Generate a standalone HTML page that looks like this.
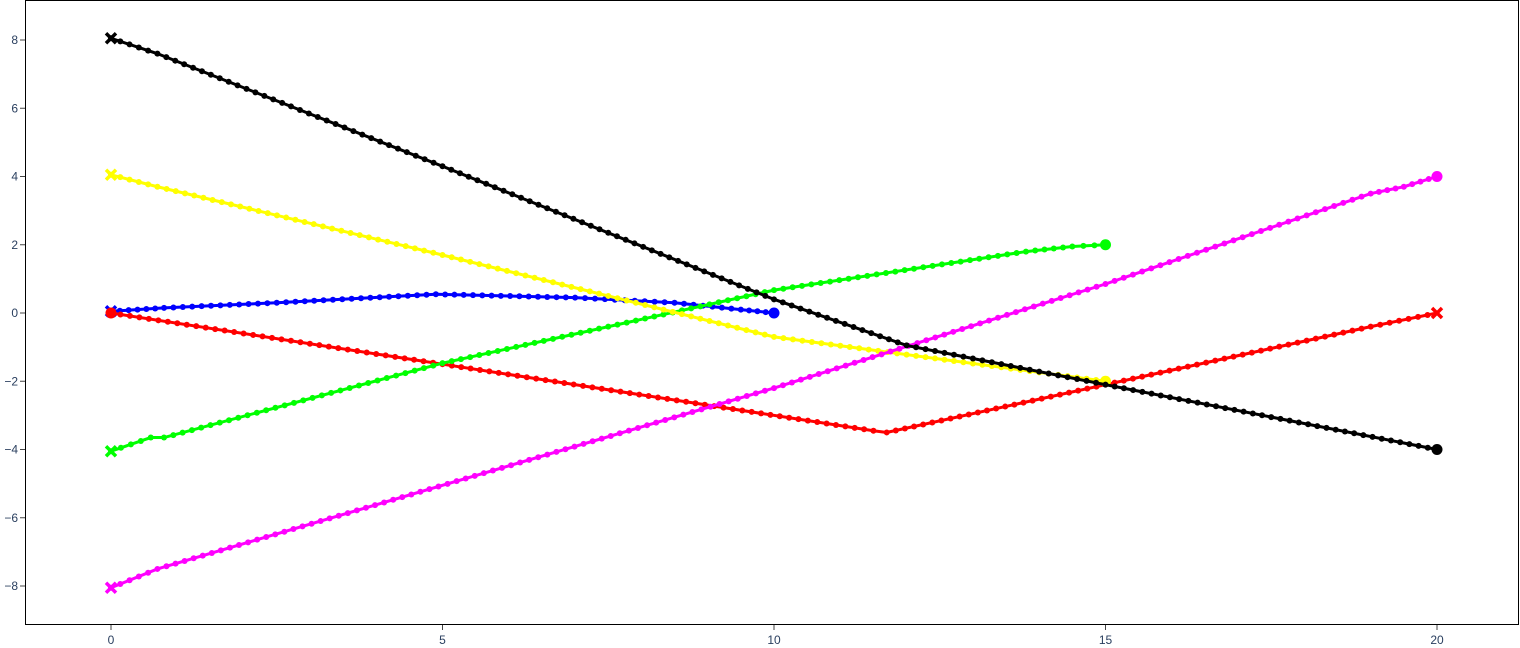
<!DOCTYPE html>
<html><head><meta charset="utf-8"><style>
html,body{margin:0;padding:0;background:#fff;}
svg{display:block;font-family:"Liberation Sans",sans-serif;}
</style></head><body>
<svg id="chart" width="1520" height="648"></svg>
<script>
const xTicks=[0,5,10,15,20];
const yTicks=[-8,-6,-4,-2,0,2,4,6,8];
const blackX=[0,0.7,5,10,12,15,20];
const blackY=[8.05,7.6,4.3,0.4,-0.95,-2.1,-4];
const yellowX=[0,0.7,5,10,15];
const yellowY=[4.05,3.7,1.7,-0.7,-2];
const greenX=[0,0.6,0.8,5,10,13.8,14.5,15];
const greenY=[-4.05,-3.65,-3.65,-1.47,0.67,1.8,1.95,2];
const blueX=[0,0.8,2.5,4.9,7,8.5,9.5,10];
const blueY=[0.05,0.15,0.3,0.55,0.45,0.3,0.1,0];
const redX=[0,5,11.5,11.7,15,19,20];
const redY=[0,-1.5,-3.45,-3.5,-2.1,-0.4,0];
const magX=[0,0.7,10,15,19,19.5,20];
const magY=[-8.05,-7.5,-2.2,0.85,3.5,3.7,4];
const series=[
 {name:'blue',c:'#0000ff',x:blueX,y:blueY,s:'x',e:'o'},
 {name:'red',c:'#ff0000',x:redX,y:redY,s:'o',e:'x'},
 {name:'green',c:'#00ff00',x:greenX,y:greenY,s:'x',e:'o'},
 {name:'yellow',c:'#ffff00',x:yellowX,y:yellowY,s:'x',e:'o'},
 {name:'magenta',c:'#ff00ff',x:magX,y:magY,s:'x',e:'o'},
 {name:'black',c:'#000000',x:blackX,y:blackY,s:'x',e:'o'}
];
const NS='http://www.w3.org/2000/svg';
const svg=document.getElementById('chart');
const sx=v=>111+v*66.3;
const sy=v=>313-v*34.125;
function el(t,a,p){const e=document.createElementNS(NS,t);for(const k in a)e.setAttribute(k,a[k]);(p||svg).appendChild(e);return e;}
const frame=el('rect',{x:25.5,y:0.5,width:1493,height:624,fill:'none',stroke:'#000','stroke-width':1});


xTicks.forEach(t=>{
 const g=el('g',{});
 
 
 el('line',{x1:sx(t),x2:sx(t),y1:625,y2:630,stroke:'#444'},g);
 const tx=el('text',{x:sx(t),y:644,'text-anchor':'middle','font-size':12,fill:'#2a3f5f'},g);tx.textContent=t;
});
yTicks.forEach(t=>{
 const g=el('g',{});
 
 
 el('line',{x1:20,x2:25,y1:sy(t),y2:sy(t),stroke:'#444'},g);
 const tx=el('text',{x:18,y:sy(t)+4,'text-anchor':'end','font-size':12,fill:'#2a3f5f'},g);tx.textContent=t===0?'0':(t<0?'\u2212'+(-t):t);
});
function cross(g,x,y,c){el('path',{d:`M${x-5},${y-5}L${x+5},${y+5}M${x-5},${y+5}L${x+5},${y-5}`,stroke:c,'stroke-width':3.5},g);}
series.forEach(s=>{
 const g=el('g',{});
 
 
 const pts=s.x.map((v,i)=>[sx(v),sy(s.y[i])]);
 el('polyline',{points:pts.map(p=>p.join(',')).join(' '),fill:'none',stroke:s.c,'stroke-width':3},g);
 for(let i=0;i<pts.length-1;i++){
  const [x1,y1]=pts[i],[x2,y2]=pts[i+1];const L=Math.hypot(x2-x1,y2-y1);const n=Math.max(1,Math.round(L/9.5));
  for(let k=0;k<n;k++){const f=k/n;el('circle',{cx:x1+(x2-x1)*f,cy:y1+(y2-y1)*f,r:3,fill:s.c},g);}
 }
 const a=pts[0],b=pts[pts.length-1];
 [[a,s.s],[b,s.e]].forEach(([p,m])=>{if(m==='x')cross(g,p[0],p[1],s.c);else el('circle',{cx:p[0],cy:p[1],r:5.5,fill:s.c},g);});
});
</script>
</body></html>
